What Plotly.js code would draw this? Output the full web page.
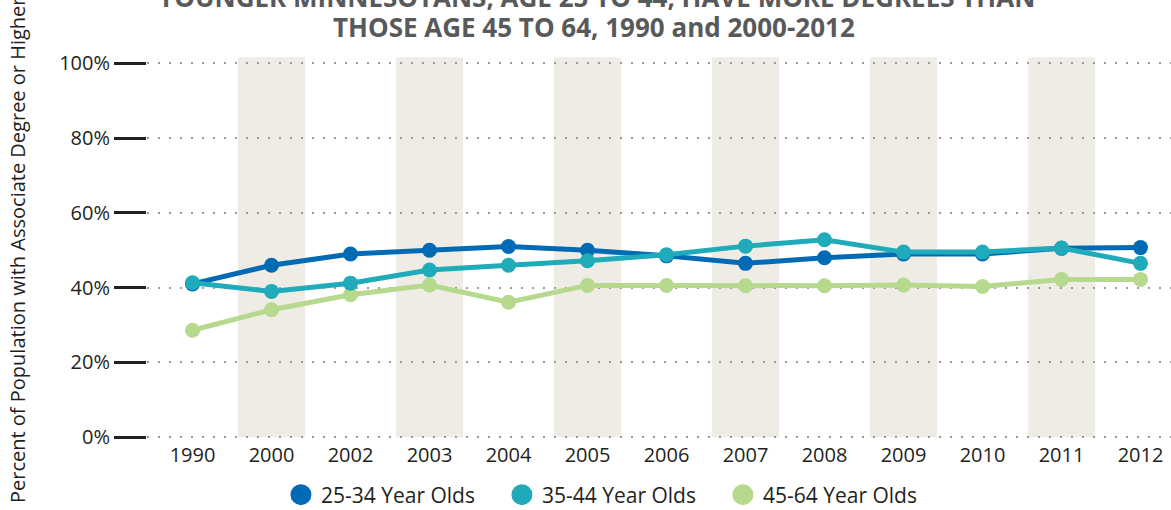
<!DOCTYPE html>
<html>
<head>
<meta charset="utf-8">
<script src="https://cdn.plot.ly/plotly-3.0.1.min.js"></script>
<style>html,body{margin:0;padding:0;background:#fff;}#chart{width:1171px;height:510px;}</style>
</head>
<body>
<div id="chart"></div>
<script>
const years = ["1990","2000","2002","2003","2004","2005","2006","2007","2008","2009","2010","2011","2012"];
const age25_34 = [41, 46, 49, 50, 51, 50, 48.5, 46.5, 48, 49, 49, 50.5, 50.7];
const age35_44 = [41.3, 39, 41.2, 44.7, 46, 47.2, 48.8, 51.1, 52.8, 49.5, 49.5, 50.6, 46.5];
const age45_64 = [28.6, 34.1, 38.1, 40.7, 36.1, 40.6, 40.6, 40.5, 40.5, 40.7, 40.3, 42.2, 42.2];
const shadedYears = ["2000","2003","2005","2007","2009","2011"];
const yTickVals = [0, 20, 40, 60, 80, 100];
const yTickText = ["0%", "20%", "40%", "60%", "80%", "100%"];
const seriesNames = ["25-34 Year Olds", "35-44 Year Olds", "45-64 Year Olds"];
const titleLine1 = "YOUNGER MINNESOTANS, AGE 25 TO 44, HAVE MORE DEGREES THAN";
const titleLine2 = "THOSE AGE 45 TO 64, 1990 and 2000-2012";
const yTitle = "Percent of Population with Associate Degree or Higher";
const colors = ["#006ab4", "#1fabb9", "#b6d98d"];

const tickFont = {family: "Open Sans, sans-serif", size: 20, color: "#231f20"};

// plot area in pixels
const L = 147, R = 1171, T = 52, B = 441;
const px2paperX = p => (p - L) / (R - L);
const px2paperY = p => (B - p) / (B - T);

function mk(name, y, color, rank) {
  return {
    type: "scatter", mode: "lines+markers", name: name, x: years, y: y,
    line: {color: color, width: 5}, marker: {color: color, size: 15},
    showlegend: false, hoverinfo: "skip", legendrank: rank
  };
}
function leg(name, color, rank) {
  return {
    type: "scatter", mode: "markers", name: name, x: [years[0]], y: [null],
    marker: {color: color, size: 16, line: {color: color, width: 5}}, showlegend: true, legendrank: rank
  };
}

const traces = [
  mk(seriesNames[2], age45_64, colors[2], 3),
  mk(seriesNames[0], age25_34, colors[0], 1),
  mk(seriesNames[1], age35_44, colors[1], 2),
  leg(seriesNames[0], colors[0], 1),
  leg(seriesNames[1], colors[1], 2),
  leg(seriesNames[2], colors[2], 3)
];

const shapes = shadedYears.map(yr => {
  const i = years.indexOf(yr);
  return {type: "rect", xref: "x", yref: "y", x0: i - 0.425, x1: i + 0.425, y0: 0, y1: 101.5,
          fillcolor: "#efece5", line: {width: 0}, layer: "below"};
});

const titleFont = {family: "Open Sans, sans-serif", size: 26, color: "#58595b"};

const layout = {
  width: 1171, height: 510,
  margin: {l: L, r: 1171 - R, t: T, b: 510 - B},
  paper_bgcolor: "#ffffff", plot_bgcolor: "#ffffff",
  showlegend: true,
  xaxis: {
    type: "category", range: [-0.576, 12.386], showgrid: false, zeroline: false,
    showline: false, ticks: "", tickfont: tickFont, fixedrange: true
  },
  yaxis: {
    range: [-1, 103], tickvals: yTickVals, ticktext: yTickText,
    showgrid: true, gridcolor: "#9a9a9a", gridwidth: 2, griddash: "2px,9px",
    zeroline: false, showline: false,
    ticks: "outside", ticklen: 32, tickwidth: 3, tickcolor: "#231f20",
    tickfont: tickFont, fixedrange: true
  },
  legend: {
    orientation: "h", xref: "container", x: 0.523, xanchor: "center",
    yref: "container", y: 1 - 495/510, yanchor: "middle",
    font: {family: "Open Sans, sans-serif", size: 21, color: "#231f20"},
    itemwidth: 30, traceorder: "normal", entrywidth: 176
  },
  shapes: shapes,
  annotations: [
    {text: "<b>" + titleLine1 + "</b>", xref: "paper", yref: "paper",
     x: px2paperX(596), y: px2paperY(-3), xanchor: "center", yanchor: "middle",
     showarrow: false, font: titleFont},
    {text: "<b>" + titleLine2 + "</b>", xref: "paper", yref: "paper",
     x: px2paperX(594), y: px2paperY(27), xanchor: "center", yanchor: "middle",
     showarrow: false, font: titleFont},
    {text: yTitle, xref: "paper", yref: "paper",
     x: px2paperX(18), y: px2paperY(250), xanchor: "center", yanchor: "middle",
     textangle: -90, showarrow: false,
     font: {family: "Open Sans, sans-serif", size: 20, color: "#231f20"}}
  ]
};

Plotly.newPlot("chart", traces, layout, {displayModeBar: false, staticPlot: true});
</script>
</body>
</html>
